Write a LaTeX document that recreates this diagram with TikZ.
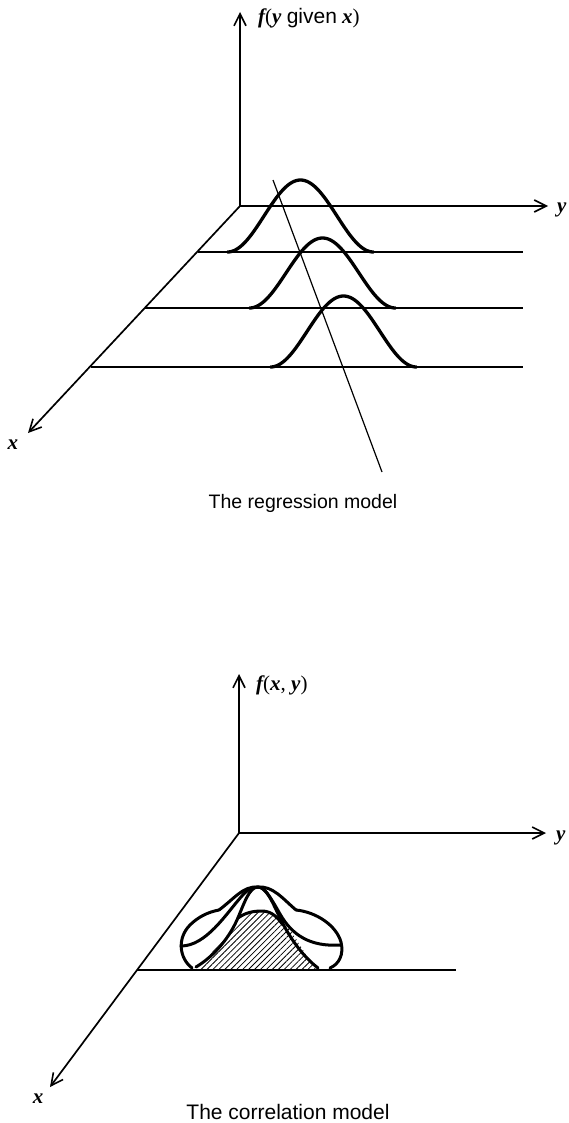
\documentclass[tikz,border=0pt]{standalone}
\usepackage{fontspec}
\setmainfont{Liberation Serif}
\setsansfont{Liberation Sans}
\usetikzlibrary{arrows.meta,patterns.meta}
\begin{document}
\begin{tikzpicture}[x=1pt,y=-1pt,
  axis/.style={line width=1.7pt,-{Straight Barb[length=12pt,width=12pt,line width=1.6pt]}},
  level/.style={line width=1.5pt},
  bell/.style={line width=3.3pt,line cap=round},
  reg/.style={line width=1.2pt},
  blob/.style={line width=3pt,line cap=round,line join=round},
  mlab/.style={font=\fontsize{21}{24}\selectfont, inner sep=0pt},
  cap1/.style={font=\sffamily\fontsize{19.5}{22}\selectfont, inner sep=0pt},
  cap2/.style={font=\sffamily\fontsize{21}{24}\selectfont, inner sep=0pt}]
\useasboundingbox (0,0) rectangle (568,1123);

% ---------------- regression model ----------------
\coordinate (O1) at (240,206);
\coordinate (F1) at (240,12);
\coordinate (Y1) at (548,206);
\coordinate (X1) at (28,433);
\draw[axis] (O1) -- (F1);
\draw[axis] (O1) -- (Y1);
\draw[axis] (O1) -- (X1);
\node[mlab, anchor=base west] (f1) at (258,24) {{\bfseries\itshape f}({\bfseries\itshape y} {\sffamily given} {\bfseries\itshape x})};
\node[mlab, anchor=base west] (ylab1) at (557,213) {\bfseries\itshape y};
\node[mlab] (xlab1) at (13,445) {\bfseries\itshape x};

\coordinate (L1a) at (198,252); \coordinate (L1b) at (523,252);
\coordinate (L2a) at (145,308); \coordinate (L2b) at (523,308);
\coordinate (L3a) at (91,367);  \coordinate (L3b) at (523,367);
\draw[level] (L1a) -- (L1b);
\draw[level] (L2a) -- (L2b);
\draw[level] (L3a) -- (L3b);

\draw[bell] plot[domain=227.5:373.5,samples=90,smooth] (\x,{252-72*(1+cos(180*(\x-300.5)/73))/2});
\draw[bell] plot[domain=249.5:395.5,samples=90,smooth] (\x,{308-70*(1+cos(180*(\x-322.5)/73))/2});
\draw[bell] plot[domain=270.5:416.5,samples=90,smooth] (\x,{367-71*(1+cos(180*(\x-343.5)/73))/2});

\coordinate (R1) at (273,180);
\coordinate (R2) at (382,472);
\draw[reg] (R1) -- (R2);

\node[cap1] (c1) at (303,503) {The regression model};

% ---------------- correlation model ----------------
\coordinate (O2) at (239,833);
\coordinate (F2) at (239,674);
\coordinate (Y2) at (546,833);
\coordinate (X2) at (50,1087);
\draw[axis] (O2) -- (F2);
\draw[axis] (O2) -- (Y2);
\draw[axis] (O2) -- (X2);
\node[mlab, anchor=base west] (f2) at (256,690) {{\bfseries\itshape f}({\bfseries\itshape x}, {\bfseries\itshape y})};
\node[mlab, anchor=base west] (ylab2) at (556,840) {\bfseries\itshape y};
\node[mlab] (xlab2) at (38,1099) {\bfseries\itshape x};

\coordinate (B1) at (137,970);
\coordinate (B2) at (456,970);
\draw[level] (B1) -- (B2);

% key points of the surface
\coordinate (P) at (258,887);     % peak
\coordinate (LT) at (219,910);    % left lobe top
\coordinate (RT) at (296,910);    % right lobe top
\coordinate (LL) at (181,946);    % left lobe left point
\coordinate (RR) at (340.5,945);  % right lobe right point
\coordinate (LB) at (192,968);    % left lobe base
\coordinate (RB) at (330,968);    % right lobe base
\coordinate (HL) at (199,969);    % hatched base left
\coordinate (HR) at (316,969);    % hatched base right
\coordinate (HT) at (262,911);    % hatched top

% hatched section
\fill[pattern={Lines[angle=45,distance=4.2pt,line width=0.8pt]}]
  (HL) .. controls (216,950) and (236,911) .. (HT)
       .. controls (286,911) and (300,950) .. (HR) -- cycle;
\draw[blob] (238,918) .. controls (245,913) and (252,911) .. (HT)
       .. controls (272,911) and (278,918) .. (283,925);

% left lobe outer
\draw[blob] (LB) .. controls (179,958) and (177,938) .. (190,925)
                 .. controls (198,917) and (208,912) .. (LT);
% outer arch
\draw[blob] (LT) .. controls (235,898) and (243,886) .. (P)
                 .. controls (273,886) and (282,898) .. (RT);
% right lobe outer
\draw[blob] (RT) .. controls (316,912) and (336,925) .. (341,942)
                 .. controls (344,955) and (339,964) .. (RB);
% left lobe inner
\draw[blob] (LL) .. controls (206,946) and (226,914) .. (241,897)
                 .. controls (247,890) and (252,887) .. (P);
% right lobe inner
\draw[blob] (P) .. controls (265,887) and (272,900) .. (280,914)
                .. controls (292,935) and (310,947) .. (RR);
% central legs
\draw[blob] (P) .. controls (249,887) and (244,904) .. (237,920)
                .. controls (227,942) and (211,958) .. (196,967);
\draw[blob] (P) .. controls (267,887) and (273,904) .. (281,920)
                .. controls (292,942) and (305,958) .. (318,968);

\node[cap2] (c2) at (288,1112) {The correlation model};
\end{tikzpicture}
\end{document}
